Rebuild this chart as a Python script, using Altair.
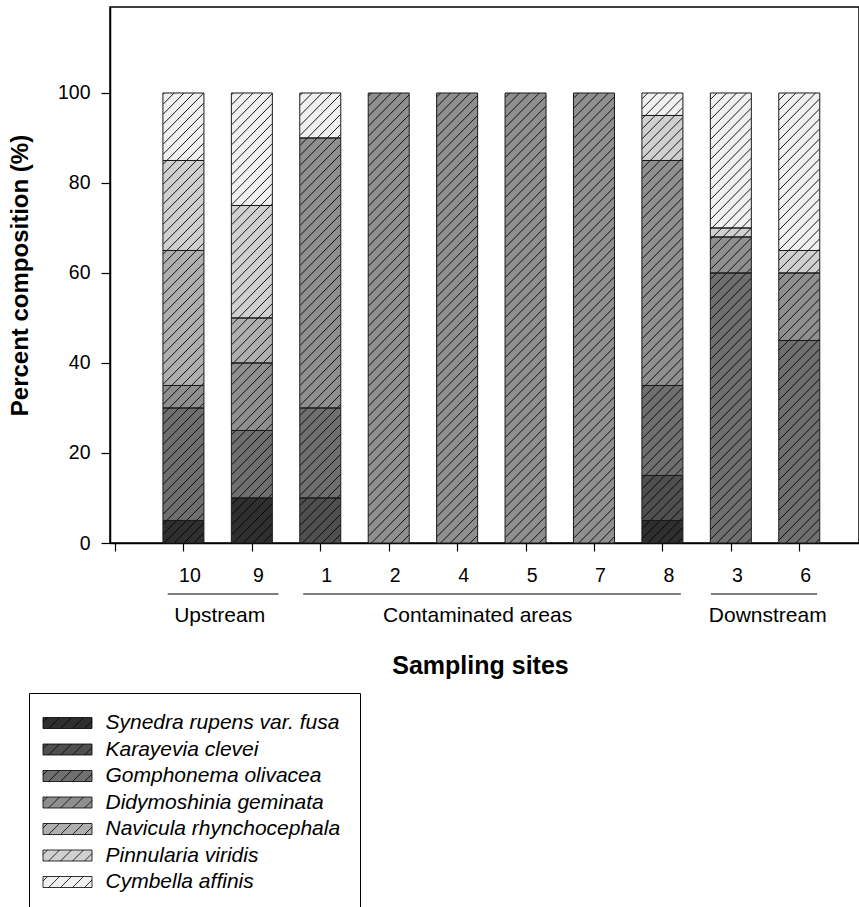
import math
import altair as alt
import pandas as pd

# ---------------- data ----------------
sites = ["10", "9", "1", "2", "4", "5", "7", "8", "3", "6"]
species = [
    "Synedra rupens var. fusa",
    "Karayevia clevei",
    "Gomphonema olivacea",
    "Didymoshinia geminata",
    "Navicula rhynchocephala",
    "Pinnularia viridis",
    "Cymbella affinis",
]
synedra = [5, 10, 0, 0, 0, 0, 0, 5, 0, 0]
karayevia = [0, 0, 10, 0, 0, 0, 0, 10, 0, 0]
gomphonema = [25, 15, 20, 0, 0, 0, 0, 20, 60, 45]
didymoshinia = [5, 15, 60, 100, 100, 100, 100, 50, 8, 15]
navicula = [30, 10, 0, 0, 0, 0, 0, 0, 0, 0]
pinnularia = [20, 25, 0, 0, 0, 0, 0, 10, 2, 5]
cymbella = [15, 25, 10, 0, 0, 0, 0, 5, 30, 35]
series = [synedra, karayevia, gomphonema, didymoshinia, navicula, pinnularia, cymbella]

fills = ["#2f2f2f", "#4f4f4f", "#6f6f6f", "#8f8f8f", "#afafaf", "#d0d0d0", "#f0f0f0"]

group_names = ["Upstream", "Contaminated areas", "Downstream"]
group_start = [0.77, 2.75, 8.71]
group_end = [2.39, 8.27, 10.26]
group_label_pos = [1.53, 5.30, 9.54]

y_ticks = [0, 20, 40, 60, 80, 100]

# ---------------- layout constants ----------------
W, H = 749, 536
XMAX, YMAX = 10.8, 119.11
BAR = 41
HATCH = 10
FONT = "Liberation Sans"

# ---------------- tables ----------------
rows = []
for i, site in enumerate(sites):
    base = 0
    for j, sp in enumerate(species):
        v = series[j][i]
        if v > 0:
            rows.append(dict(site=site, pos=i + 1, species=sp, order=j,
                             value=v, y0=base, y1=base + v))
        base += v
bars_df = pd.DataFrame(rows)

# diagonal hatch lines clipped to each bar (derived from bar totals)
hrows = []
for i, site in enumerate(sites):
    total = sum(s[i] for s in series)
    cx = (i + 1) * W / XMAX
    left, right = cx - BAR / 2, cx + BAR / 2
    hp = total * H / YMAX
    k0 = math.floor((left - hp) / HATCH) - 1
    k1 = math.ceil(right / HATCH) + 1
    for k in range(k0, k1 + 1):
        x0 = k * HATCH
        tlo = max(0.0, left - x0)
        thi = min(hp, right - x0)
        if thi - tlo > 0.5:
            hrows.append(dict(pos=(x0 + tlo) * XMAX / W, y0=tlo * YMAX / H,
                              hx1=(x0 + thi) * XMAX / W, hy1=thi * YMAX / H))
hatch_df = pd.DataFrame(hrows)

groups_df = pd.DataFrame(dict(name=group_names, pos=group_start, ge=group_end,
                              gl=group_label_pos))

# legend swatch: rectangle with diagonal hatch, as a symbol path
L, R = -2.91, 6.0
parts = [f"M{L},-1H{R}V1H{L}Z"]
step = 2.18
for k in range(-2, 6):
    x0 = -1.9 + k * step
    tlo = max(0.0, L - x0)
    thi = min(2.0, R - x0)
    if thi - tlo > 0.05:
        parts.append(f"M{x0 + tlo:.3f},{1 - tlo:.3f}L{x0 + thi:.3f},{1 - thi:.3f}")
swatch = "".join(parts)

# ---------------- chart ----------------
xscale = alt.Scale(domain=[0, XMAX], nice=False, zero=False)
yscale = alt.Scale(domain=[0, YMAX], nice=False, zero=False)

label_arr = "[''," + ",".join(f"'{s}'" for s in sites) + "]"

xaxis = alt.Axis(
    values=list(range(0, 11)),
    labelExpr=f"{label_arr}[datum.value]",
    title="Sampling sites",
    titleFontSize=25, titleFontWeight="bold", titleFont=FONT,
    titleX=370, titleY=122, titleBaseline="middle",
    labelFont=FONT, labelFontSize=19.5, labelBaseline="alphabetic",
    labelPadding=30, labelOffset=6, tickSize=8, tickWidth=1.2,
    tickColor="black", domainColor="black", domainWidth=1.5,
    labelColor="black", titleColor="black", grid=False,
)
yaxis = alt.Axis(
    values=y_ticks, title="Percent composition (%)",
    titleFontSize=24, titleFontWeight="bold", titleFont=FONT,
    titleX=-90, titleY=268, titleAngle=270, titleBaseline="middle",
    titleAlign="center",
    labelFont=FONT, labelFontSize=19.5, labelPadding=11, tickSize=9,
    tickWidth=1.2, tickColor="black", domainColor="black", domainWidth=1.5,
    labelColor="black", titleColor="black", grid=False,
)

X = alt.X("pos:Q", scale=xscale, axis=xaxis)
Y = alt.Y("y0:Q", scale=yscale, axis=yaxis)

bars = alt.Chart(bars_df).mark_bar(size=BAR, strokeWidth=0).encode(
    x=X, y=Y, y2="y1:Q",
    fill=alt.Fill("species:N", scale=alt.Scale(domain=species, range=fills),
                  legend=alt.Legend(
                      orient="none", legendX=-81, legendY=686, title=None,
                      strokeColor="black", padding=19.5, fillColor="white",
                      labelFont=FONT, labelFontSize=21, labelFontStyle="italic",
                      labelColor="black", symbolType=swatch, symbolSize=121,
                      symbolStrokeColor="black", symbolStrokeWidth=0.8,
                      symbolOpacity=1, labelOffset=36, rowPadding=4.5,
                      labelLimit=400,
                  )),
    order=alt.Order("order:Q"),
)

hatch = alt.Chart(hatch_df).mark_rule(color="black", strokeWidth=0.9).encode(
    x=X, y=Y, x2="hx1:Q", y2="hy1:Q",
)

outline = alt.Chart(bars_df).mark_bar(size=BAR, fillOpacity=0, stroke="#1a1a1a",
                                      strokeWidth=1).encode(
    x=X, y=Y, y2="y1:Q",
)

glines = alt.Chart(groups_df).mark_rule(color="black", strokeWidth=1).encode(
    x=X, x2="ge:Q", y=alt.value(587),
)

gtext = alt.Chart(groups_df).mark_text(font=FONT, fontSize=21, color="black",
                                       baseline="alphabetic").encode(
    x=alt.X("gl:Q", scale=xscale, axis=xaxis),
    y=alt.value(615),
    text="name:N",
)

chart = alt.layer(bars, hatch, outline, glines, gtext).properties(
    width=W, height=H,
    autosize=alt.AutoSizeParams(type="none"),
    padding={"left": 110, "top": 7, "right": 0, "bottom": 364},
    background="white",
).configure_view(stroke="black", strokeWidth=1.5)

chart.save("out.html", embed_options={"renderer": "svg", "actions": False})
